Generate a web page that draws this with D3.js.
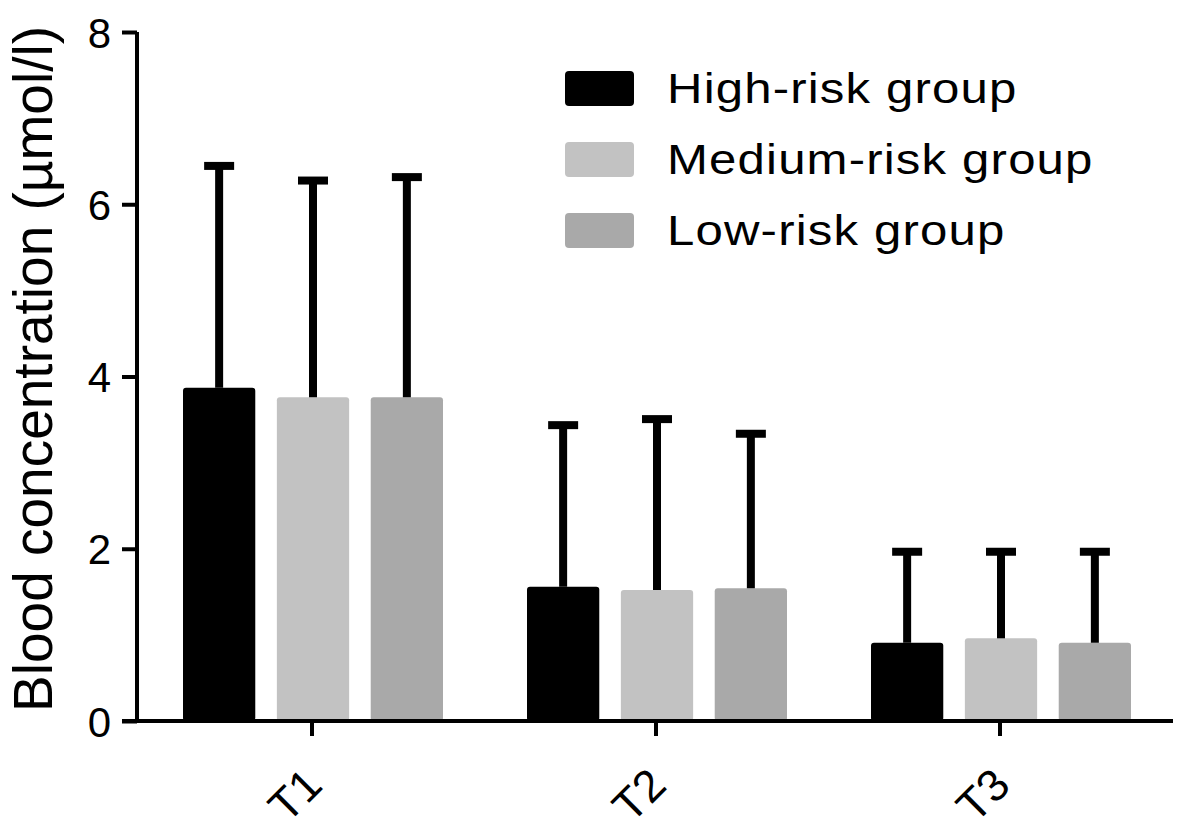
<!DOCTYPE html>
<html>
<head>
<meta charset="utf-8">
<script src="https://cdn.jsdelivr.net/npm/d3@7"></script>
<style>
  body { margin: 0; background: #fff; }
  text { font-family: "Liberation Sans", Arial, sans-serif; fill: #000; }
</style>
</head>
<body>
<svg id="chart" width="1187" height="835"></svg>
<script>
// Chart data
var timePoints = ["T1", "T2", "T3"];
var groups = ["High-risk group", "Medium-risk group", "Low-risk group"];
var groupColors = ["#000000", "#c2c2c2", "#a9a9a9"];
// means per group, in order T1, T2, T3
var meanHigh = [3.87, 1.56, 0.91];
var meanMedium = [3.76, 1.52, 0.96];
var meanLow = [3.76, 1.54, 0.91];
// top of error bar (mean + SD)
var upperHigh = [6.48, 3.47, 2.0];
var upperMedium = [6.31, 3.54, 2.0];
var upperLow = [6.35, 3.37, 2.0];
var yTicks = [0, 2, 4, 6, 8];

var means = [meanHigh, meanMedium, meanLow];
var uppers = [upperHigh, upperMedium, upperLow];

var svg = d3.select("#chart");

// Scales
var y = d3.scaleLinear().domain([0, 8]).range([721, 32]);
var x0 = d3.scaleBand().domain(timePoints).range([140, 1172]);
var x1 = d3.scaleBand().domain(d3.range(groups.length))
  .range([43, 303]).paddingInner(0.23);

// Build flat bar list
var bars = [];
timePoints.forEach(function(t, i){
  groups.forEach(function(g, j){
    bars.push({t: t, g: j, mean: means[j][i], upper: uppers[j][i]});
  });
});

var barX = function(d){ return x0(d.t) + x1(d.g); };
var barMid = function(d){ return barX(d) + x1.bandwidth() / 2; };

// Bars
svg.append("g").selectAll("rect")
  .data(bars)
  .enter()
  .append("rect")
  .attr("x", barX)
  .attr("y", function(d){ return y(d.mean); })
  .attr("width", x1.bandwidth())
  .attr("height", function(d){ return y(0) - y(d.mean); })
  .attr("rx", 3)
  .attr("fill", function(d){ return groupColors[d.g]; });

// Error bars (upper only)
var err = svg.append("g").attr("stroke", "#000");
err.selectAll("line.v")
  .data(bars)
  .enter()
  .append("line")
  .attr("class", "v")
  .attr("x1", barMid).attr("x2", barMid)
  .attr("y1", function(d){ return y(d.mean); })
  .attr("y2", function(d){ return y(d.upper); })
  .attr("stroke-width", 8);
err.selectAll("line.cap")
  .data(bars)
  .enter()
  .append("line")
  .attr("class", "cap")
  .attr("x1", function(d){ return barMid(d) - 15; })
  .attr("x2", function(d){ return barMid(d) + 15; })
  .attr("y1", function(d){ return y(d.upper) + 3; })
  .attr("y2", function(d){ return y(d.upper) + 3; })
  .attr("stroke-width", 8);

// Y axis
var yAxis = svg.append("g")
  .attr("transform", "translate(137,0)")
  .call(d3.axisLeft(y).tickValues(yTicks).tickFormat(d3.format("d")).tickSize(15).tickPadding(11));
yAxis.select(".domain").attr("stroke-width", 4).attr("d", "M0," + y(8) + "V" + y(0));
yAxis.selectAll(".tick line").attr("stroke-width", 4);
yAxis.selectAll(".tick text").style("font-size", "42px").attr("dy", "0.36em");

// X axis
var xAxis = svg.append("g")
  .attr("transform", "translate(0," + y(0) + ")")
  .call(d3.axisBottom(x0).tickSize(15).tickSizeOuter(0).tickPadding(0));
xAxis.select(".domain").attr("stroke-width", 4).attr("d", "M122,0H1173");
xAxis.selectAll(".tick line").attr("stroke-width", 4);
xAxis.selectAll(".tick text")
  .style("font-size", "45px")
  .attr("text-anchor", "end")
  .attr("dy", "0.75em")
  .attr("transform", "translate(-22,32) rotate(-45)");

// Y axis title
svg.append("text")
  .attr("transform", "translate(52,369) rotate(-90)")
  .attr("text-anchor", "middle")
  .style("font-size", "55px")
  .text("Blood concentration (µmol/l)");

// Legend
var legend = svg.append("g").attr("transform", "translate(565,71)");
var items = legend.selectAll("g")
  .data(groups)
  .enter()
  .append("g")
  .attr("transform", function(d, i){ return "translate(0," + (i * 71) + ")"; });
items.append("rect")
  .attr("width", 69).attr("height", 35).attr("rx", 4)
  .attr("fill", function(d, i){ return groupColors[i]; });
items.append("text")
  .attr("transform", "translate(102,32) scale(1.17,1)")
  .style("font-size", "42px")
  .style("letter-spacing", "1px")
  .text(function(d){ return d; });
</script>
</body>
</html>
